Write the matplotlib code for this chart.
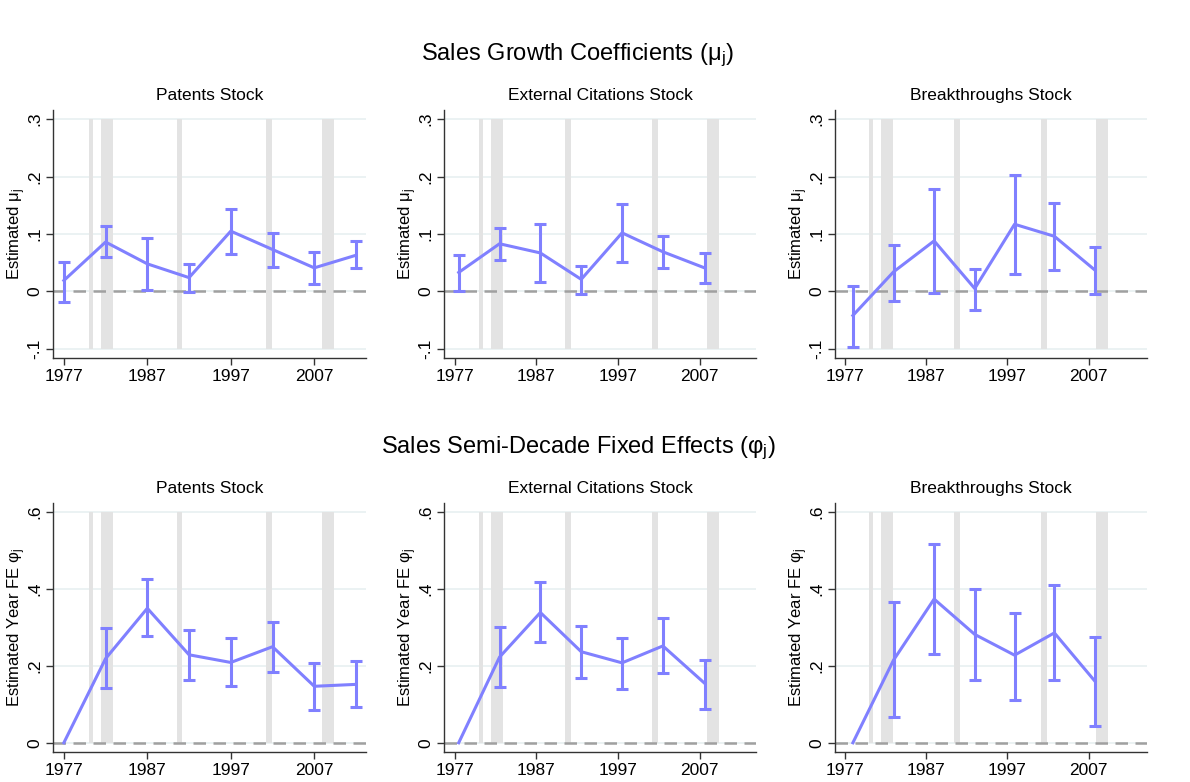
import matplotlib
matplotlib.use("Agg")
import matplotlib.pyplot as plt
import numpy as np

plt.rcParams['font.family'] = ['Liberation Sans', 'DejaVu Sans']
plt.rcParams['mathtext.fontset'] = 'custom'
plt.rcParams['mathtext.rm'] = 'Liberation Sans'
plt.rcParams['mathtext.it'] = 'Liberation Sans:italic'

nan = np.nan

# panel titles and x positions (bin years) per measure
panel_titles = ["Patents Stock", "External Citations Stock", "Breakthroughs Stock"]
years_pat = [1977, 1982, 1987, 1992, 1997, 2002, 2007, 2012]
years_cit = [1977.5, 1982.5, 1987.5, 1992.5, 1997.5, 2002.5, 2007.6]
years_brk = [1978, 1983, 1988, 1993, 1997.9, 2002.8, 2007.8]

# sales growth coefficients (mu_j) with 95% CI
mu_pat = [0.019, 0.086, 0.048, 0.024, 0.105, 0.073, 0.041, 0.063]
mu_pat_lo = [-0.019, 0.060, 0.003, -0.001, 0.065, 0.042, 0.013, 0.040]
mu_pat_hi = [0.052, 0.114, 0.093, 0.047, 0.144, 0.102, 0.068, 0.087]

mu_cit = [0.033, 0.083, 0.067, 0.021, 0.102, 0.069, 0.041]
mu_cit_lo = [0.0, 0.055, 0.016, -0.004, 0.051, 0.040, 0.015]
mu_cit_hi = [0.064, 0.111, 0.118, 0.045, 0.153, 0.096, 0.067]

mu_brk = [-0.042, 0.034, 0.088, 0.005, 0.117, 0.096, 0.037]
mu_brk_lo = [-0.096, -0.016, -0.002, -0.032, 0.031, 0.038, -0.005]
mu_brk_hi = [0.009, 0.081, 0.179, 0.039, 0.202, 0.154, 0.077]

# semi-decade fixed effects (phi_j), first bin is the reference
phi_pat = [0.0, 0.219, 0.350, 0.229, 0.209, 0.250, 0.147, 0.152]
phi_pat_lo = [nan, 0.143, 0.279, 0.164, 0.147, 0.184, 0.086, 0.092]
phi_pat_hi = [nan, 0.298, 0.427, 0.293, 0.272, 0.315, 0.208, 0.212]

phi_cit = [0.0, 0.223, 0.339, 0.237, 0.208, 0.252, 0.155]
phi_cit_lo = [nan, 0.145, 0.261, 0.168, 0.141, 0.181, 0.089]
phi_cit_hi = [nan, 0.302, 0.418, 0.304, 0.273, 0.324, 0.216]

phi_brk = [0.0, 0.215, 0.374, 0.282, 0.228, 0.286, 0.160]
phi_brk_lo = [nan, 0.066, 0.232, 0.164, 0.111, 0.164, 0.043]
phi_brk_hi = [nan, 0.366, 0.517, 0.400, 0.339, 0.410, 0.274]

# NBER recessions
rec_start = [1980.0, 1981.5, 1990.5, 2001.2, 2007.9]
rec_end = [1980.5, 1982.9, 1991.2, 2001.9, 2009.4]

xticks = [1977, 1987, 1997, 2007]
mu_ticks = [-0.1, 0, 0.1, 0.2, 0.3]
mu_labels = ["-.1", "0", ".1", ".2", ".3"]
phi_ticks = [0, 0.2, 0.4, 0.6]
phi_labels = ["0", ".2", ".4", ".6"]

line_col = "#8080ff"
bar_col = "#e3e3e3"
grid_col = "#e8f0f1"

fig = plt.figure(figsize=(11.9, 7.82), dpi=100)

W, H = 1190, 782
lefts = [53, 444, 835]
widths = [313, 312, 312]
xlims = [(1975.7, 2013.2), (1975.7, 2013.9), (1975.8, 2014.2)]


def draw_panel(ax, x, y, lo, hi, ticks, labels, ylabel, xlim, title, width_px):
    y = np.array(y)
    lo = np.array(lo)
    hi = np.array(hi)
    for t in ticks:
        ax.axhline(t, color=grid_col, lw=1.2, zorder=0)
    for s, e in zip(rec_start, rec_end):
        ax.fill_between([s, e], ticks[0], ticks[-1], color=bar_col, lw=0, zorder=1)
    ax.axhline(0, color="#a0a0a0", lw=1.8, ls=(0, (5, 3)), zorder=2)
    ax.errorbar(x, y, yerr=[y - lo, hi - y], fmt='none', ecolor=line_col,
                elinewidth=2.2, capsize=4, capthick=2.2, zorder=3)
    ax.plot(x, y, color=line_col, lw=2.2, zorder=4)
    ax.set_xlim(*xlim)
    pad = (ticks[-1] - ticks[0]) * 0.04
    ax.set_ylim(ticks[0] - pad, ticks[-1] + pad)
    ax.set_xticks(xticks)
    ax.set_xticklabels([str(v) for v in xticks], fontsize=12.5)
    ax.set_yticks(ticks)
    ax.set_yticklabels(labels, fontsize=12.5, rotation=90, va='center')
    ax.tick_params(length=5, width=1, color="#333333", pad=3)
    ax.set_ylabel(ylabel, fontsize=12, va='center')
    ax.yaxis.set_label_coords(-36 / width_px, 0.5)
    ax.set_title(title, fontsize=12.5, pad=7)
    for sp in ["top", "right"]:
        ax.spines[sp].set_visible(False)
    for sp in ["left", "bottom"]:
        ax.spines[sp].set_color("#333333")
        ax.spines[sp].set_linewidth(1)


top_data = [(years_pat, mu_pat, mu_pat_lo, mu_pat_hi),
            (years_cit, mu_cit, mu_cit_lo, mu_cit_hi),
            (years_brk, mu_brk, mu_brk_lo, mu_brk_hi)]
bot_data = [(years_pat, phi_pat, phi_pat_lo, phi_pat_hi),
            (years_cit, phi_cit, phi_cit_lo, phi_cit_hi),
            (years_brk, phi_brk, phi_brk_lo, phi_brk_hi)]

for i in range(3):
    ax = fig.add_axes([lefts[i] / W, 1 - 358 / H, widths[i] / W, 248 / H])
    x, y, lo, hi = top_data[i]
    draw_panel(ax, x, y, lo, hi, mu_ticks, mu_labels,
               r"Estimated $\mathregular{μ_j}$", xlims[i], panel_titles[i], widths[i])

    ax = fig.add_axes([lefts[i] / W, 1 - 752 / H, widths[i] / W, 249 / H])
    x, y, lo, hi = bot_data[i]
    draw_panel(ax, x, y, lo, hi, phi_ticks, phi_labels,
               r"Estimated Year FE $\mathregular{φ_j}$", xlims[i], panel_titles[i], widths[i])

fig.text(0.485, 1 - 55 / H, r"Sales Growth Coefficients ($\mathregular{μ_j}$)",
         ha='center', va='center', fontsize=17)
fig.text(0.486, 1 - 448 / H, r"Sales Semi-Decade Fixed Effects ($\mathregular{φ_j}$)",
         ha='center', va='center', fontsize=17)

fig.savefig("out.png", dpi=100, facecolor="white")
